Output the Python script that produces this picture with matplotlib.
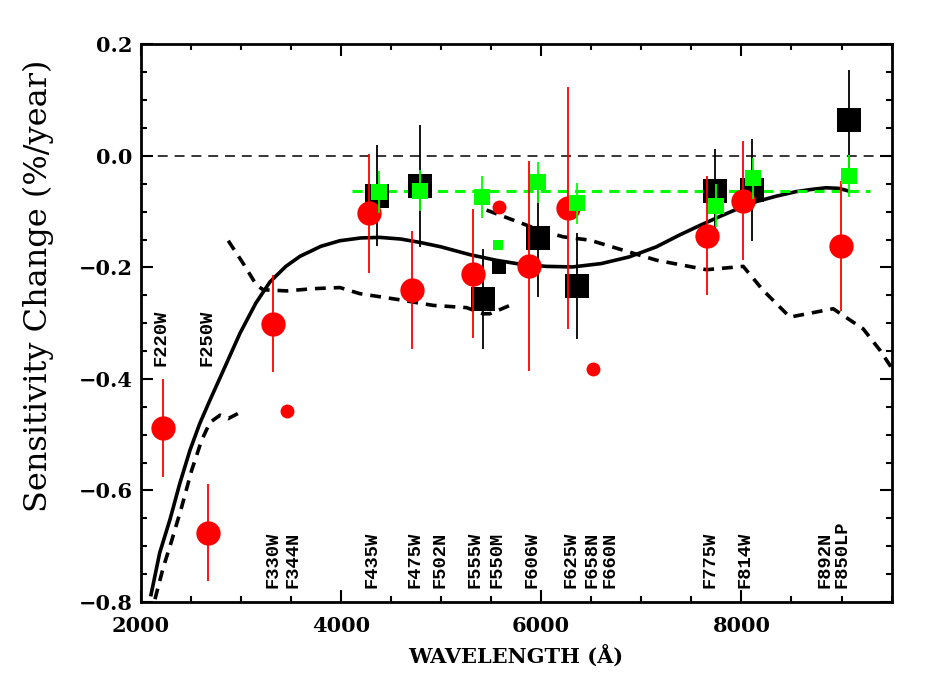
import matplotlib
matplotlib.use("Agg")
import matplotlib.pyplot as plt
from matplotlib.ticker import MultipleLocator

# ---------------- data ----------------
# big red circles (wavelength, rate, error)
red_x = [2220, 2675, 3324, 4283, 4706, 5321, 5880, 6270, 7652, 8018, 8993]
red_y = [-0.488, -0.676, -0.301, -0.103, -0.241, -0.211, -0.197, -0.094, -0.143, -0.080, -0.161]
red_err = [0.088, 0.087, 0.087, 0.107, 0.106, 0.116, 0.188, 0.217, 0.107, 0.107, 0.117]
# small red circles (narrow/medium bands)
red_small_x = [3464, 5581, 6520]
red_small_y = [-0.458, -0.091, -0.382]

# black squares
blk_x = [4363, 4789, 5421, 5964, 6354, 7735, 8101, 9076]
blk_y = [-0.071, -0.054, -0.256, -0.148, -0.233, -0.062, -0.061, 0.064]
blk_err = [0.091, 0.109, 0.090, 0.105, 0.095, 0.074, 0.091, 0.091]
blk_small_x = [5581]
blk_small_y = [-0.199]

# green squares
grn_x = [4383, 4789, 5405, 5970, 6360, 7745, 8111, 9076]
grn_y = [-0.064, -0.062, -0.074, -0.047, -0.085, -0.089, -0.040, -0.036]
grn_err = [0.0375, 0.037, 0.0375, 0.037, 0.0365, 0.038, 0.037, 0.0375]
grn_small_x = [5571]
grn_small_y = [-0.160]

# green mean line
grn_mean = -0.062
grn_mean_x = [4107, 9283]

# solid model curve
fit_x = [2100, 2190, 2293, 2390, 2492, 2590, 2692, 2800, 2992, 3150, 3291, 3450, 3591,
         3800, 3990, 4200, 4389, 4600, 4789, 5000, 5288, 5550, 5788, 6050, 6314, 6600,
         6880, 7150, 7379, 7580, 7778, 7960, 8145, 8350, 8544, 8700, 8843, 8970, 9076]
fit_y = [-0.790, -0.712, -0.652, -0.588, -0.528, -0.480, -0.438, -0.395, -0.318, -0.264,
         -0.226, -0.198, -0.180, -0.162, -0.152, -0.147, -0.146, -0.149, -0.155, -0.163,
         -0.177, -0.187, -0.194, -0.198, -0.199, -0.193, -0.181, -0.163, -0.142, -0.125,
         -0.109, -0.095, -0.082, -0.072, -0.064, -0.060, -0.057, -0.058, -0.063]

# dashed model curve (three pieces)
dash1_x = [2143, 2226, 2310, 2409, 2509, 2609, 2692, 2792, 2875, 2992]
dash1_y = [-0.795, -0.738, -0.690, -0.630, -0.564, -0.510, -0.478, -0.465, -0.471, -0.460]
dash2_x = [2875, 3025, 3158, 3225, 3458, 3724, 3990, 4190, 4589, 4922, 5255, 5421, 5488, 5688]
dash2_y = [-0.152, -0.193, -0.232, -0.240, -0.242, -0.238, -0.236, -0.247, -0.258, -0.268,
           -0.272, -0.283, -0.283, -0.268]
dash3_x = [5455, 5721, 5987, 6220, 6487, 6819, 7153, 7652, 8018, 8217, 8484, 8916, 9216, 9386, 9500]
dash3_y = [-0.097, -0.115, -0.133, -0.145, -0.151, -0.169, -0.187, -0.204, -0.198, -0.241,
           -0.289, -0.274, -0.310, -0.349, -0.380]

# filter labels
top_filters = ["F220W", "F250W"]
top_filter_x = [2203, 2659]
bot_filters = ["F330W", "F344N", "F435W", "F475W", "F502N", "F555W", "F550M", "F606W",
               "F625W", "F658N", "F660N", "F775W", "F814W", "F892N", "F850LP"]
bot_filter_x = [3324, 3524, 4307, 4739, 4989, 5339, 5558, 5905, 6294, 6504, 6687, 7686,
                8035, 8833, 9003]

x_ticks = [2000, 4000, 6000, 8000]
y_ticks = [-0.8, -0.6, -0.4, -0.2, 0.0, 0.2]

# ---------------- plot ----------------
RED = "#ff0000"
GREEN = "#00ff00"

fig = plt.figure(figsize=(9.34, 6.92), dpi=100)
ax = fig.add_axes([0.1506, 0.1301, 0.804, 0.8056])

ax.set_xlim(2000, 9500)
ax.set_ylim(-0.8, 0.2)

# zero line
ax.axhline(0.0, color="black", lw=1.1, dashes=(6.5, 4.5), zorder=1)

# model curves
ax.plot(fit_x, fit_y, color="black", lw=2.6, solid_capstyle="butt",
        solid_joinstyle="round", zorder=2)
for dx, dy in [(dash1_x, dash1_y), (dash2_x, dash2_y), (dash3_x, dash3_y)]:
    ax.plot(dx, dy, color="black", lw=2.6, dashes=(3.0, 2.2), zorder=2)

# green mean line
ax.plot(grn_mean_x, [grn_mean, grn_mean], color=GREEN, lw=2.2, dashes=(3.3, 2.3), zorder=2)

# black squares
ax.errorbar(blk_x, blk_y, yerr=blk_err, fmt="s", color="black", ms=17.5, mew=0,
            elinewidth=1.3, capsize=3.3, capthick=1.4, zorder=3)
ax.plot(blk_small_x, blk_small_y, "s", color="black", ms=10, mew=0, zorder=3)

# red circles
ax.errorbar(red_x, red_y, yerr=red_err, fmt="o", color=RED, ms=17.5, mew=0,
            elinewidth=1.3, capsize=3.3, capthick=1.4, zorder=4)
ax.plot(red_small_x, red_small_y, "o", color=RED, ms=10, mew=0, zorder=4)

# green squares
ax.errorbar(grn_x, grn_y, yerr=grn_err, fmt="s", color=GREEN, ms=11, mew=0,
            elinewidth=1.3, capsize=3.3, capthick=1.4, zorder=5)
ax.plot(grn_small_x, grn_small_y, "s", color=GREEN, ms=7, mew=0, zorder=5)

# filter labels
lab_font = dict(family=["Liberation Mono", "DejaVu Sans Mono"], weight="bold", size=13.5)
for name, x in zip(top_filters, top_filter_x):
    ax.text(x, -0.376, name, rotation=90, ha="center", va="bottom", **lab_font, zorder=6)
for name, x in zip(bot_filters, bot_filter_x):
    ax.text(x, -0.775, name, rotation=90, ha="center", va="bottom", **lab_font, zorder=6)

# axes styling
ax.set_xticks(x_ticks)
ax.set_yticks(y_ticks)
ax.set_xticklabels([str(v) for v in x_ticks])
ax.set_yticklabels(["\u22120.8", "\u22120.6", "\u22120.4", "\u22120.2", "0.0", "0.2"])
ax.xaxis.set_minor_locator(MultipleLocator(500))
ax.yaxis.set_minor_locator(MultipleLocator(0.05))
ax.tick_params(which="both", direction="in", top=True, right=True, width=1.5, colors="black")
ax.tick_params(which="major", length=8.5)
ax.tick_params(which="minor", length=4.5)
ax.tick_params(axis="x", which="major", pad=10)
ax.tick_params(axis="y", which="major", pad=6)
for lbl in ax.get_xticklabels() + ax.get_yticklabels():
    lbl.set_fontfamily("DejaVu Serif")
    lbl.set_fontweight("bold")
    lbl.set_fontsize(15)
for sp in ax.spines.values():
    sp.set_linewidth(2.0)

ax.set_xlabel("WAVELENGTH (\u00c5)", family="DejaVu Serif", weight="bold", fontsize=15, labelpad=7)
fig.text(38 / 934, 1 - 286 / 692, "Sensitivity Change (%/year)", rotation=90,
         ha="center", va="center", family="DejaVu Serif", fontsize=23)

fig.savefig("out.png", dpi=100)
